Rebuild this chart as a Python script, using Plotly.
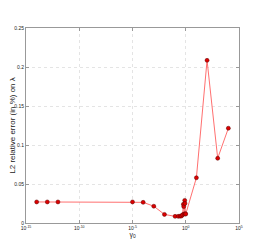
import plotly.graph_objects as go

gamma0 = [1e-14, 1e-13, 1e-12, 1e-5, 1e-4, 1e-3, 1e-2, 0.1, 0.2, 0.3, 0.4, 0.5,
          0.6, 0.65, 0.7, 0.8, 0.85, 0.9, 1.0, 10, 100, 1000, 10000]
error = [0.027, 0.027, 0.027, 0.027, 0.0265, 0.0215, 0.011, 0.0085, 0.0085, 0.0088,
         0.009, 0.0105, 0.024, 0.021, 0.0115, 0.029, 0.025, 0.012, 0.0115,
         0.058, 0.2085, 0.083, 0.1215]

x_tickvals = [1e-15, 1e-10, 1e-5, 1, 1e5]
x_ticktext = ["10<sup>-15</sup>", "10<sup>-10</sup>", "10<sup>-5</sup>", "10<sup>0</sup>", "10<sup>5</sup>"]
y_tickvals = [0, 0.05, 0.1, 0.15, 0.2, 0.25]
y_ticktext = ["0", "0.05", "0.1", "0.15", "0.2", "0.25"]

fig = go.Figure()
fig.add_trace(go.Scatter(
    x=gamma0, y=error, mode="lines+markers",
    line=dict(color="#ff7070", width=1),
    marker=dict(color="#dd0000", size=4, line=dict(color="#5a0000", width=0.5)),
    showlegend=False,
))

axis_common = dict(
    showline=True, linecolor="#999999", linewidth=1, mirror="ticks",
    ticks="inside", ticklen=3, tickcolor="#999999",
    showgrid=True, gridcolor="#e4e4e4", griddash="dot", gridwidth=1,
    zeroline=False, automargin=False,
    tickfont=dict(size=5, family="Liberation Sans", color="#222222"),
)

fig.update_layout(
    width=247, height=232,
    margin=dict(l=17.5, r=16, t=19.5, b=17),
    paper_bgcolor="white", plot_bgcolor="white",
    xaxis=dict(type="log", range=[-15, 5], tickvals=x_tickvals, ticktext=x_ticktext,
               title=dict(text="γ<sub>0</sub>", font=dict(size=7, family="Liberation Sans", color="#222222"), standoff=1),
               **axis_common),
    yaxis=dict(range=[0, 0.25], tickvals=y_tickvals, ticktext=y_ticktext,
               title=dict(text="L2 relative error (in %) on λ", font=dict(size=8, family="Liberation Sans", color="#222222"), standoff=3),
               **axis_common),
)

fig.write_html("out.html")
